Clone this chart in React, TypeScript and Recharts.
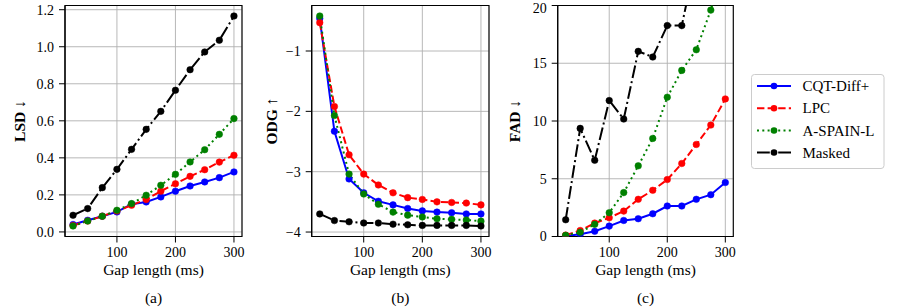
import React from 'react';
import { LineChart, Line, XAxis, YAxis, CartesianGrid, ReferenceArea } from 'recharts';

// ---------- data ----------
const gaps = [25, 50, 75, 100, 125, 150, 175, 200, 225, 250, 275, 300];
const xTicks = [100, 200, 300];

const lsdCqt = [0.04, 0.063, 0.085, 0.108, 0.15, 0.162, 0.189, 0.22, 0.248, 0.27, 0.293, 0.324];
const lsdLpc = [0.035, 0.059, 0.085, 0.113, 0.144, 0.175, 0.22, 0.26, 0.3, 0.336, 0.377, 0.414];
const lsdAspain = [0.032, 0.059, 0.085, 0.117, 0.153, 0.198, 0.252, 0.311, 0.378, 0.444, 0.527, 0.612];
const lsdMasked = [0.09, 0.126, 0.239, 0.338, 0.446, 0.554, 0.651, 0.765, 0.876, 0.972, 1.035, 1.166];
const lsdTicks = [0, 0.2, 0.4, 0.6, 0.8, 1.0, 1.2];

const odgCqt = [-0.46, -2.33, -3.12, -3.35, -3.49, -3.55, -3.61, -3.65, -3.67, -3.68, -3.7, -3.7];
const odgLpc = [-0.53, -1.92, -2.72, -3.04, -3.22, -3.35, -3.43, -3.46, -3.5, -3.51, -3.52, -3.55];
const odgAspain = [-0.42, -2.07, -3.04, -3.37, -3.54, -3.67, -3.72, -3.75, -3.78, -3.79, -3.8, -3.82];
const odgMasked = [-3.7, -3.81, -3.83, -3.85, -3.85, -3.87, -3.88, -3.89, -3.89, -3.89, -3.89, -3.9];
const odgTicks = [-4, -3, -2, -1];

const fadCqt = [0.05, 0.2, 0.45, 0.9, 1.39, 1.54, 1.97, 2.64, 2.64, 3.22, 3.62, 4.67];
const fadLpc = [0.12, 0.52, 1.16, 1.62, 2.2, 3.22, 4.0, 4.93, 6.32, 7.97, 9.65, 11.91];
const fadAspain = [0.1, 0.37, 1.05, 2.06, 3.8, 6.12, 8.49, 12.06, 14.38, 16.17, 19.6, 24.0];
const fadMasked = [1.45, 9.36, 6.6, 11.77, 10.17, 16.03, 15.54, 18.26, 18.26, 24.2, 28, 32];
const fadTicks = [0, 5, 10, 15, 20];

const seriesNames = ['CQT-Diff+', 'LPC', 'A-SPAIN-L', 'Masked'];
const seriesKeys = ['cqt', 'lpc', 'aspain', 'masked'];
const seriesColors = ['#0000ff', '#ff0000', '#008000', '#000000'];
const LW = 2;
const seriesDash = [
  undefined,
  `${3.7 * LW} ${1.6 * LW}`,
  `${1 * LW} ${1.65 * LW}`,
  `${6.4 * LW} ${1.6 * LW} ${1 * LW} ${1.6 * LW}`,
];

const build = (a: number[], b: number[], c: number[], d: number[]) =>
  gaps.map((g, i) => ({ gap: g, cqt: a[i], lpc: b[i], aspain: c[i], masked: d[i] }));

const lsdData = build(lsdCqt, lsdLpc, lsdAspain, lsdMasked);
const odgData = build(odgCqt, odgLpc, odgAspain, odgMasked);
const fadData = build(fadCqt, fadLpc, fadAspain, fadMasked);

const FONT = 'Liberation Serif, Times New Roman, serif';
const X_DOMAIN: [number, number] = [11.25, 313.75];

const autoDomain = (arrs: number[][]): [number, number] => {
  const all = arrs.flat();
  const mn = Math.min(...all);
  const mx = Math.max(...all);
  const m = (mx - mn) * 0.05;
  return [mn - m, mx + m];
};

const minusFmt = (v: number) => (v < 0 ? '\u2212' + Math.abs(v) : String(v));

type PanelProps = {
  data: any[];
  left: number;
  width: number;
  yWidth: number;
  marginLeft: number;
  marginRight: number;
  yDomain: [number, number];
  yTicks: number[];
  fmt: (v: number) => string;
};

const Panel = ({ data, left, width, yWidth, marginLeft, marginRight, yDomain, yTicks, fmt }: PanelProps) => {
  const tickStyle = { fill: '#000', fontSize: 14, fontFamily: FONT };
  return (
    <div style={{ position: 'absolute', left, top: 0 }}>
      <LineChart
        width={width}
        height={308}
        data={data}
        margin={{ top: 5.5, right: marginRight, bottom: 41.5, left: marginLeft }}
      >
        <CartesianGrid stroke="#b0b0b0" strokeWidth={0.9} />
        <XAxis
          dataKey="gap"
          type="number"
          domain={X_DOMAIN}
          ticks={xTicks}
          allowDataOverflow
          height={30}
          tickSize={6}
          tickMargin={5}
          tick={tickStyle}
          tickLine={{ stroke: '#000', strokeWidth: 1 }}
          axisLine={{ stroke: '#000', strokeWidth: 1.1 }}
        />
        <YAxis
          type="number"
          domain={yDomain}
          ticks={yTicks}
          allowDataOverflow
          width={yWidth}
          tickSize={6}
          tickMargin={5}
          tickFormatter={fmt}
          tick={tickStyle}
          tickLine={{ stroke: '#000', strokeWidth: 1 }}
          axisLine={{ stroke: '#000', strokeWidth: 1.1 }}
        />
        {seriesKeys.map((k, i) => (
          <Line
            key={k}
            dataKey={k}
            name={seriesNames[i]}
            stroke={seriesColors[i]}
            strokeWidth={LW}
            strokeDasharray={seriesDash[i]}
            dot={{ r: 3.3, fill: seriesColors[i], stroke: seriesColors[i], strokeWidth: 0.5, strokeDasharray: '' }}
            isAnimationActive={false}
            type="linear"
          />
        ))}
        <ReferenceArea
          x1={X_DOMAIN[0]}
          x2={X_DOMAIN[1]}
          y1={yDomain[0]}
          y2={yDomain[1]}
          fill="none"
          fillOpacity={0}
          stroke="#000"
          strokeWidth={1.1}
          ifOverflow="visible"
        />
      </LineChart>
    </div>
  );
};

const Legend = () => {
  const rows = [86, 108.3, 130.5, 152.5];
  return (
    <svg
      width={897}
      height={308}
      style={{ position: 'absolute', left: 0, top: 0, pointerEvents: 'none' }}
    >
      <rect x={751.5} y={74.5} width={132.5} height={94} rx={3} fill="#fff" fillOpacity={0.8} stroke="#cccccc" strokeWidth={1} />
      {seriesNames.map((n, i) => (
        <g key={n}>
          <line
            x1={757}
            x2={791}
            y1={rows[i]}
            y2={rows[i]}
            stroke={seriesColors[i]}
            strokeWidth={LW}
            strokeDasharray={seriesDash[i]}
          />
          <circle cx={774} cy={rows[i]} r={3.3} fill={seriesColors[i]} />
          <text x={802.5} y={rows[i] + 5} fontSize={15} fontFamily={FONT} fill="#000">
            {n}
          </text>
        </g>
      ))}
    </svg>
  );
};

const Labels = () => {
  const xl = [
    { cx: 153.5, lbl: '(a)' },
    { cx: 400.3, lbl: '(b)' },
    { cx: 645.5, lbl: '(c)' },
  ];
  const yl = [
    { x: 24.5, t: 'LSD \u2193' },
    { x: 276.5, t: 'ODG \u2191' },
    { x: 520, t: 'FAD \u2193' },
  ];
  return (
    <svg
      width={897}
      height={308}
      style={{ position: 'absolute', left: 0, top: 0, pointerEvents: 'none' }}
    >
      {xl.map((p) => (
        <g key={p.lbl}>
          <text x={p.cx} y={274.5} textAnchor="middle" fontSize={15.5} fontFamily={FONT} fill="#000">
            Gap length (ms)
          </text>
          <text x={p.cx} y={303} textAnchor="middle" fontSize={15.5} fontFamily={FONT} fill="#000">
            {p.lbl}
          </text>
        </g>
      ))}
      {yl.map((p) => (
        <text
          key={p.t}
          x={0}
          y={0}
          transform={`translate(${p.x},121) rotate(-90)`}
          textAnchor="middle"
          fontSize={15.5}
          fontWeight="bold"
          fontFamily={FONT}
          fill="#000"
        >
          {p.t}
        </text>
      ))}
    </svg>
  );
};

export default function App() {
  const lsdDomain = autoDomain([lsdCqt, lsdLpc, lsdAspain, lsdMasked]);
  const odgDomain = autoDomain([odgCqt, odgLpc, odgAspain, odgMasked]);
  return (
    <div style={{ position: 'absolute', left: 0, top: 0, width: 897, height: 308, background: '#fff', overflow: 'hidden' }}>
      <Panel
        data={lsdData}
        left={0}
        width={260}
        yWidth={45}
        marginLeft={20}
        marginRight={18}
        yDomain={lsdDomain}
        yTicks={lsdTicks}
        fmt={(v) => v.toFixed(1)}
      />
      <Panel
        data={odgData}
        left={260}
        width={250}
        yWidth={45}
        marginLeft={6.7}
        marginRight={21}
        yDomain={odgDomain}
        yTicks={odgTicks}
        fmt={minusFmt}
      />
      <Panel
        data={fadData}
        left={510}
        width={240}
        yWidth={40}
        marginLeft={7.7}
        marginRight={16.7}
        yDomain={[0, 20]}
        yTicks={fadTicks}
        fmt={(v) => String(v)}
      />
      <Labels />
      <Legend />
    </div>
  );
}
